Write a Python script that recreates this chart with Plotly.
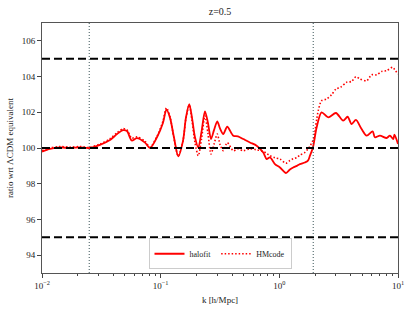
import plotly.graph_objects as go

k_halofit = [0.0100, 0.01168, 0.01418, 0.0172, 0.0209, 0.0249, 0.0308, 0.0374, 0.0429, 0.0481,
             0.0520, 0.0570, 0.0631, 0.0738, 0.0813, 0.0931, 0.1045, 0.1119, 0.1198, 0.1294,
             0.1407, 0.1542, 0.1633, 0.1741, 0.1836, 0.1946, 0.2075, 0.2208, 0.2362, 0.2504,
             0.2656, 0.2814, 0.2999, 0.3161, 0.3369, 0.3640, 0.4092, 0.4480, 0.4965, 0.5654,
             0.6438, 0.7318, 0.7814, 0.8331, 0.9184, 1.012, 1.137, 1.228, 1.309, 1.406,
             1.492, 1.643, 1.742, 1.812, 1.920, 2.062, 2.271, 2.582, 2.999, 3.452,
             3.760, 4.064, 4.419, 4.935, 5.445, 6.112, 6.385, 7.042, 8.018, 8.547,
             9.120, 9.33, 10.0]
halofit = [99.80, 99.95, 100.03, 100.00, 100.04, 100.00, 100.18, 100.45, 100.78, 101.00,
           100.95, 100.42, 100.55, 100.30, 100.00, 100.60, 101.40, 102.15, 101.70, 100.60,
           99.53, 100.40, 101.70, 102.46, 101.70, 100.60, 100.03, 100.90, 102.05, 101.40,
           100.50, 101.00, 101.49, 101.10, 100.78, 101.19, 100.69, 100.65, 100.50, 100.31,
           100.13, 99.75, 99.38, 99.47, 99.10, 98.91, 98.60, 98.80, 98.91, 99.00,
           99.10, 99.19, 99.29, 99.57, 100.03, 101.15, 102.00, 101.71, 101.96, 101.53,
           101.75, 101.34, 101.57, 101.06, 100.69, 100.93, 100.60, 100.69, 100.56, 100.69,
           100.50, 100.75, 100.22]

k_hmcode = [0.0100, 0.01168, 0.01418, 0.0172, 0.0209, 0.0249, 0.0308, 0.0374, 0.0429, 0.0481,
            0.0520, 0.0570, 0.0631, 0.0738, 0.0813, 0.0931, 0.1045, 0.1119, 0.1198, 0.1294,
            0.1407, 0.1542, 0.1633, 0.1741, 0.1836, 0.1946, 0.2075, 0.2208, 0.2362, 0.2504,
            0.2656, 0.2814, 0.2999, 0.3161, 0.3369, 0.3640, 0.4092, 0.4480, 0.4965, 0.5654,
            0.6438, 0.7318, 0.7814, 0.8331, 0.9184, 1.012, 1.137, 1.228, 1.309, 1.406,
            1.492, 1.643, 1.742, 1.812, 1.935, 2.127, 2.271, 2.501, 2.760, 2.999,
            3.281, 3.690, 4.064, 4.419, 4.773, 5.445, 5.999, 6.608, 7.282, 8.018,
            9.018, 9.42, 10.0]
hmcode = [99.85, 100.00, 100.08, 100.05, 100.08, 100.03, 100.22, 100.52, 100.85, 101.08,
          101.02, 100.55, 100.62, 100.38, 100.05, 100.65, 101.50, 102.25, 101.75, 100.55,
          99.55, 100.40, 101.65, 102.40, 101.55, 100.30, 99.57, 100.50, 101.80, 100.80,
          99.66, 100.20, 100.78, 100.20, 99.85, 100.30, 99.85, 99.95, 99.85, 99.95,
          99.90, 99.80, 99.70, 99.57, 99.45, 99.38, 99.15, 99.30, 99.40, 99.47,
          99.60, 99.75, 99.95, 100.10, 100.50, 102.09, 102.65, 102.74, 102.99, 103.30,
          103.40, 103.68, 103.73, 103.99, 103.87, 103.77, 104.10, 104.10, 104.29, 104.33,
          104.52, 104.37, 104.15]

ref_levels = [95, 100, 105]
vlines_k = [0.025, 1.93]
x_ticks = [0.01, 0.1, 1, 10]
x_ticktext = ["10<sup>−2</sup>", "10<sup>−1</sup>", "10<sup>0</sup>", "10<sup>1</sup>"]
y_ticks = [94, 96, 98, 100, 102, 104, 106]
minor_x = [m * d for d in [0.01, 0.1, 1] for m in range(2, 10)]

FONT = "Liberation Serif"
TXT = "#222222"

fig = go.Figure()

for lv in ref_levels:
    fig.add_hline(y=lv, line=dict(color="black", width=2, dash="8px,4px"), layer="above")
for vk in vlines_k:
    fig.add_vline(x=vk, line=dict(color="#3b5558", width=1, dash="1px,2px"))

fig.add_trace(go.Scatter(x=k_halofit, y=halofit, mode="lines", name="halofit",
                         line=dict(color="#ff0000", width=1.8, shape="spline", smoothing=0.8)))
fig.add_trace(go.Scatter(x=k_hmcode, y=hmcode, mode="lines", name="HMcode",
                         line=dict(color="#ff0000", width=1.6, dash="1.5px,2px",
                                   shape="spline", smoothing=0.8)))

fig.update_layout(
    width=414, height=311,
    margin=dict(l=42, r=16, t=23, b=38, autoexpand=False),
    paper_bgcolor="white", plot_bgcolor="white",
    font=dict(family=FONT, size=9, color=TXT),
    title=dict(text="z=0.5", x=0.5, xanchor="center", xref="paper", y=0.963, yanchor="middle",
               font=dict(family=FONT, size=10, color=TXT)),
    showlegend=True,
    legend=dict(orientation="h", x=0.5, xanchor="center", y=0.015, yanchor="bottom",
                bgcolor="rgba(255,255,255,0.9)", bordercolor="#cccccc", borderwidth=1,
                font=dict(family=FONT, size=8, color=TXT), itemwidth=30, tracegroupgap=0),
    xaxis=dict(type="log", range=[-2, 1], tickvals=x_ticks, ticktext=x_ticktext,
               automargin=False,
               ticks="outside", ticklen=4, tickcolor="#444", showgrid=False, zeroline=False,
               showline=True, linecolor="#555", linewidth=1, mirror=True,
               minor=dict(tickvals=minor_x, ticks="outside", ticklen=2, tickcolor="#444", showgrid=False),
               title=dict(text="k [h/Mpc]", font=dict(family=FONT, size=9, color=TXT), standoff=6),
               tickfont=dict(family=FONT, size=9, color=TXT)),
    yaxis=dict(range=[93, 107], tickvals=y_ticks, ticks="outside", ticklen=4, tickcolor="#444",
               automargin=False,
               showgrid=False, zeroline=False, showline=True, linecolor="#555", linewidth=1,
               mirror=True,
               title=dict(text="ratio wrt ΛCDM equivalent", font=dict(family=FONT, size=9, color=TXT), standoff=6),
               tickfont=dict(family=FONT, size=9, color=TXT)),
)

fig.write_html("out.html", config={"displayModeBar": False},
               post_script="document.body.style.margin='0';document.body.style.padding='0';")
